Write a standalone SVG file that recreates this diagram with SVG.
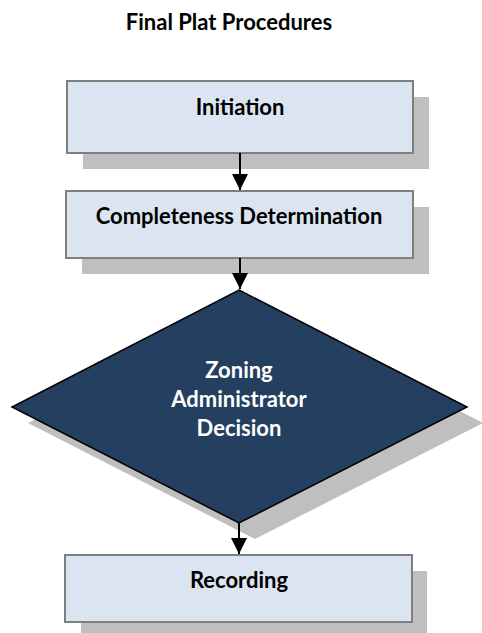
<svg xmlns="http://www.w3.org/2000/svg" width="482" height="633" viewBox="0 0 482 633">
<defs>
<style>
.shadow{fill:#bfbfbf;stroke:none}
.box{fill:#dbe5f1;stroke:#7f7f7f;stroke-width:2}
.dia{fill:#243f60;stroke:#000;stroke-width:1.5;stroke-linejoin:miter}
.lbl{font-family:Lato,"Open Sans","Liberation Sans",sans-serif;font-weight:bold;font-size:22px;text-anchor:middle;fill:#000}
.wlbl{fill:#fff}
.title{font-family:Lato,"Open Sans","Liberation Sans",sans-serif;font-weight:bold;font-size:22px;text-anchor:middle;fill:#000}
.conn{stroke:#000;stroke-width:2;fill:none}
</style>
<marker id="ah" markerUnits="userSpaceOnUse" markerWidth="16" markerHeight="18" refX="16" refY="8" orient="auto" viewBox="0 0 16 16">
<path d="M0,0 L16,8 L0,16 Z" fill="#000"/>
</marker>
</defs>
<rect width="482" height="633" fill="#fff"/>
<text class="title" x="229" y="30">Final Plat Procedures</text>
<g id="node-initiation">
<rect class="shadow" x="83" y="97" width="346" height="72"/>
<rect class="box" x="67" y="81" width="346" height="72"/>
<text class="lbl" x="240" y="115">Initiation</text>
</g>
<g id="node-completeness">
<rect class="shadow" x="82" y="207" width="347" height="67"/>
<rect class="box" x="66" y="191" width="347" height="67"/>
<text class="lbl" x="239" y="224">Completeness Determination</text>
</g>
<g id="node-decision">
<polygon class="shadow" points="255,306 483,423 255,539 28,423"/>
<polygon class="dia" points="239,290 467,407 239,523 12,407"/>
<text class="lbl wlbl" x="239" y="378">Zoning</text>
<text class="lbl wlbl" x="239" y="407">Administrator</text>
<text class="lbl wlbl" x="239" y="436">Decision</text>
</g>
<g id="node-recording">
<rect class="shadow" x="81" y="571" width="346" height="67"/>
<rect class="box" x="65" y="555" width="347" height="67"/>
<text class="lbl" x="239" y="588">Recording</text>
</g>
<g id="connectors">
<line class="conn" x1="240" y1="153" x2="240" y2="190" marker-end="url(#ah)"/>
<line class="conn" x1="240" y1="258" x2="240" y2="289" marker-end="url(#ah)"/>
<line class="conn" x1="239" y1="523" x2="239" y2="554" marker-end="url(#ah)"/>
</g>
</svg>
